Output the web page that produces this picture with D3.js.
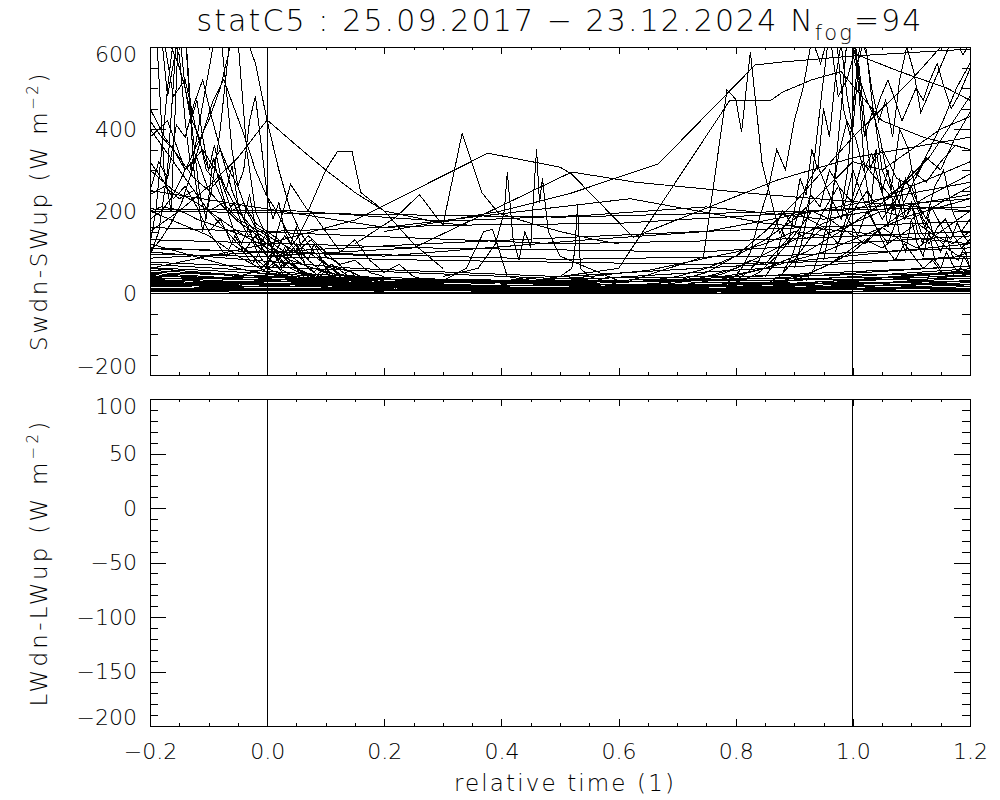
<!DOCTYPE html>
<html><head><meta charset="utf-8">
<script src="https://cdn.jsdelivr.net/npm/d3@7"></script>
<style>
body{margin:0;background:#fff}
svg{display:block}
text{font-family:"DejaVu Sans",sans-serif;font-weight:200;fill:#000}
</style>
</head><body><svg id="c" width="1000" height="800"></svg>
<script>
// ---------------- data ----------------
const titleMain = "statC5 : 25.09.2017 \u2212 23.12.2024 N";
const titleSub = "fog";
const titleEnd = "=94";
const xLabel = "relative time (1)";
const swLabel = ["Swdn-SWup (W m", "\u22122", ")"];
const lwLabel = ["LWdn-LWup (W m", "\u22122", ")"];

const xDomain = [-0.2, 1.2];
const xTicks = [-0.2, 0.0, 0.2, 0.4, 0.6, 0.8, 1.0, 1.2];
const swDomain = [-200, 600];
const swTicks = [-200, 0, 200, 400, 600];
const lwDomain = [-200, 100];
const lwTicks = [-200, -150, -100, -50, 0, 50, 100];
const markerTimes = [0.0, 1.0];

// regular series: [start time, step, values]  (Swdn-SWup, W m-2)
const nightSeries = [
  [-0.2, 0.35, [12, 10, 8, 9, 11]],
  [-0.2, 0.28, [25, 22, 18, 20, 24, 28]],
  [-0.2, 0.7, [35, 30, 40]],
  [-0.2, 0.2, [45, 30, 18, 12, 10, 16, 32, 55]],
  [-0.2, 0.47, [55, 20, 15, 60]],
  [-0.2, 0.35, [18, 14, 5, 3, 6]],
  [-0.2, 0.14, [60, 45, 32, 20, 14, 10, 9, 12, 20, 38, 52]],
  [-0.2, 0.7, [8, 4, 15]],
  [-0.2, 0.23, [30, 28, 20, 12, 10, 14, 22]],
  [-0.2, 0.35, [70, 40, 25, 35, 66]],
  [-0.2, 1.4, [40, 20]],
  [-0.2, 0.28, [22, 30, 28, 18, 12, 9]],
  [-0.2, 0.175, [15, 20, 12, 6, 2, 3, 5, 12, 20]],
  [-0.2, 0.47, [95, 80, 70, 85]],
  [-0.2, 0.35, [108, 95, 82, 90, 110]],
  [-0.2, 0.7, [50, 20, 65]],
  [-0.2, 0.2, [28, 24, 16, 8, 4, 6, 14, 30]],
  [-0.2, 0.35, [5, 6, 4, 2, 3]],
  [-0.2, 0.28, [42, 26, 14, 12, 25, 50]],
  [-0.2, 0.47, [20, 26, 30, 35]],
  [-0.2, 0.7, [75, 35, 48]],
  [-0.2, 0.35, [33, 15, 10, 12, 25]],
  [-0.2, 0.1, [48, 40, 30, 22, 18, 10, 6, 4, 3, 5, 8, 12, 20, 30, 45]],
  [-0.2, 0.23, [3, 2, 1, 1, 2, 4, 7]],
  [-0.2, 0.47, [130, 110, 100, 140]],
  [-0.2, 0.7, [200, 185, 210]],
  [-0.2, 0.35, [160, 140, 120, 130, 150]],
  [-0.2, 0.47, [85, 120, 150, 175]],
  [-0.2, 0.7, [10, 30, 90]],
  [-0.2, 0.35, [100, 60, 40, 70, 120]],
  [-0.2, 0.28, [10, 8, 6, 5, 7, 12]],
  [-0.2, 0.2, [38, 24, 14, 9, 8, 12, 22, 36]],
  [-0.2, 0.35, [25, 18, 12, 16, 45]],
  [-0.2, 0.47, [62, 28, 18, 30]]
];

const morningSeries = [
  [-0.2, 0.02, [610, 650, 480, 520, 390, 300, 350, 250, 180, 120, 90, 60, 45, 30, 22, 15, 10, 8, 6, 5, 4]],
  [-0.2, 0.015, [250, 320, 280, 410, 380, 460, 520, 430, 350, 300, 260, 200, 160, 150, 110, 80, 60, 50, 40, 30, 28, 22, 18, 15, 12, 10, 8]],
  [-0.2, 0.02, [180, 200, 240, 300, 360, 420, 500, 620, 640, 560, 420, 300, 200, 140, 100, 70, 50, 35, 25, 20, 15, 12]],
  [-0.2, 0.012, [640, 610, 300, 200, 620, 650, 400, 250, 180, 330, 260, 200, 150, 120, 160, 110, 80, 60, 70, 45, 30, 40, 25, 20, 18, 15]],
  [-0.2, 0.025, [450, 380, 330, 280, 250, 210, 175, 150, 120, 90, 60, 45, 35, 28, 20]],
  [-0.2, 0.05, [150, 200, 260, 330, 422, 360, 300, 245, 200, 185, 170, 165]],
  [-0.2, 0.02, [420, 380, 350, 300, 330, 250, 280, 200, 220, 170, 150, 130, 100, 110, 90, 70, 60, 55, 40, 30, 25, 20]],
  [-0.2, 0.015, [90, 150, 300, 620, 640, 300, 150, 250, 400, 600, 620, 350, 200, 150, 100, 60, 80, 50, 30, 20, 15, 25, 20, 10]],
  [-0.2, 0.02, [200, 210, 205, 195, 180, 170, 160, 150, 140, 135, 120, 100, 90, 70, 60, 50, 45, 40, 38, 35, 30]],
  [-0.2, 0.02, [320, 280, 230, 260, 210, 150, 180, 120, 100, 140, 90, 60, 80, 50, 40, 60, 35, 30, 25]],
  [-0.2, 0.01, [600, 650, 620, 480, 560, 640, 500, 420, 470, 380, 300, 360, 290, 250, 310, 220, 180, 240, 160, 120, 150, 100, 80, 110, 70, 60, 50, 40, 35, 30]],
  [-0.2, 0.03, [380, 420, 300, 350, 280, 200, 150, 120, 90, 140, 100, 60, 40, 30]],
  [-0.2, 0.01, [120, 200, 350, 500, 620, 580, 420, 300, 380, 460, 540, 620, 640, 500, 350, 260, 300, 420, 480, 360, 240, 180, 220, 150, 120, 160, 100, 80, 120, 90, 60, 70, 45, 35, 25]],
  [-0.2, 0.025, [240, 260, 230, 250, 200, 220, 180, 160, 140, 120, 100, 130, 90, 70, 80, 50, 40]],
  [-0.2, 0.018, [100, 130, 170, 220, 300, 390, 470, 520, 450, 380, 300, 240, 200, 150, 110, 80, 60, 45, 30, 20]],
  [-0.2, 0.04, [300, 250, 220, 180, 140, 110, 80, 60, 45, 40, 35]],
  [-0.2, 0.012, [620, 640, 610, 600, 560, 500, 420, 380, 300, 280, 240, 200, 220, 170, 140, 160, 120, 100, 90, 70, 80, 60, 50, 40, 30]],
  [-0.1, 0.015, [150, 120, 90, 140, 100, 70, 110, 80, 60, 90, 120, 70, 50, 80, 60, 40, 55, 35, 30, 25, 20, 15]],
  [-0.05, 0.02, [120, 100, 60, 90, 140, 100, 60, 40, 70, 50, 30, 40, 25, 20, 15, 10]],
  [0.0, 0.025, [60, 90, 130, 200, 150, 100, 130, 80, 50, 70, 40, 30, 20]]
];

const eveningSeries = [
  [0.78, 0.015, [20, 35, 60, 100, 180, 250, 350, 300, 420, 500, 620, 560, 640, 480, 520, 600, 380, 450, 300, 250, 400, 350, 220, 180, 260, 300, 200, 150, 180]],
  [0.8, 0.02, [30, 50, 80, 140, 200, 160, 260, 310, 240, 180, 300, 220, 160, 120, 200, 260, 180, 140, 110, 90, 100]],
  [0.85, 0.01, [40, 60, 90, 150, 120, 200, 280, 240, 350, 300, 450, 380, 520, 610, 480, 400, 560, 420, 300, 350, 250, 300, 200, 280, 180, 220, 150, 120, 180, 130, 100, 140, 90, 80, 110, 60]],
  [0.9, 0.012, [60, 120, 200, 350, 500, 640, 620, 450, 380, 560, 620, 500, 420, 470, 380, 520, 600, 540, 440, 480, 520, 560, 600, 620, 580, 610]],
  [0.7, 0.025, [25, 30, 40, 45, 60, 80, 70, 110, 150, 130, 200, 260, 220, 300, 350, 280, 260, 330, 300, 380, 440]],
  [0.75, 0.03, [15, 20, 30, 50, 90, 140, 200, 180, 150, 120, 160, 130, 110, 140, 170, 200]],
  [0.95, 0.01, [80, 150, 300, 450, 620, 650, 500, 300, 200, 350, 250, 160, 220, 140, 100, 180, 120, 90, 150, 80, 60, 100, 70, 50, 90, 60]],
  [0.85, 0.025, [20, 40, 80, 130, 160, 120, 200, 250, 180, 230, 300, 270, 320, 360, 350]],
  [0.6, 0.05, [10, 15, 25, 40, 60, 95, 130, 170, 200, 230, 260, 290, 320]],
  [0.5, 0.07, [5, 8, 12, 20, 35, 60, 100, 160, 230, 330, 480]],
  [0.88, 0.016, [50, 90, 160, 240, 210, 300, 260, 180, 140, 200, 160, 110, 80, 120, 90, 60, 80, 50, 40, 60, 45]],
  [0.92, 0.014, [30, 60, 120, 210, 340, 420, 380, 300, 340, 260, 200, 240, 180, 210, 150, 120, 160, 180, 140, 110, 130]],
  [0.97, 0.023, [100, 200, 320, 280, 240, 260, 290, 350, 420, 500, 560]],
  [0.8, 0.04, [10, 18, 30, 45, 70, 100, 150, 190, 230, 260, 290]],
  [0.9, 0.03, [30, 50, 70, 100, 130, 110, 140, 170, 140, 120, 150]],
  [0.98, 0.011, [200, 300, 480, 620, 580, 440, 380, 300, 260, 220, 280, 240, 200, 160, 210, 180, 150, 130, 170, 140, 120]],
  [1.0, 0.012, [580, 520, 470, 430, 480, 520, 470, 420, 460, 500, 470, 520, 560, 500, 450, 480, 520, 560]]
];

const fullSeries = [
  [-0.2, 0.05, [400, 300, 200, 120, 60, 30, 15, 10, 8, 6, 5, 5, 6, 8, 10, 12, 15, 20, 30, 50, 90, 150, 220, 300, 380, 450, 520, 600, 620]],
  [-0.2, 0.05, [120, 100, 80, 60, 45, 40, 30, 25, 20, 18, 15, 14, 12, 12, 14, 16, 18, 22, 28, 35, 45, 60, 80, 100, 130, 160, 190, 210, 230]],
  [-0.2, 0.05, [60, 55, 48, 40, 35, 30, 28, 25, 22, 20, 20, 22, 25, 30, 35, 40, 48, 55, 70, 85, 100, 120, 150, 140, 170, 200, 180, 220, 260]],
  [-0.2, 0.05, [200, 170, 140, 90, 50, 35, 30, 40, 35, 30, 28, 25, 30, 35, 30, 28, 25, 30, 40, 60, 90, 130, 180, 250, 320, 300, 350, 400, 430]]
];

// irregular series: [times, values]
const daySeries = [
  [[0.15, 0.22, 0.26, 0.30, 0.333, 0.367, 0.395, 0.45, 0.5, 0.56, 0.6], [120, 185, 240, 165, 390, 244, 195, 170, 150, 130, 120]],
  [[0.3, 0.36, 0.39, 0.405, 0.41, 0.42, 0.43, 0.44, 0.45, 0.455, 0.46, 0.465, 0.47, 0.48, 0.5, 0.55, 0.6], [40, 60, 120, 200, 295, 130, 80, 150, 110, 240, 350, 220, 280, 150, 90, 60, 30]],
  [[-0.05, 0.0, 0.04, 0.07, 0.1, 0.12, 0.145, 0.16, 0.2, 0.25, 0.3], [40, 60, 265, 200, 300, 345, 345, 245, 200, 120, 60]],
  [[-0.2, 0.0, 0.15, 0.377, 0.5, 0.52, 0.625, 0.87, 1.0, 1.2], [60, 120, 178, 341, 307, 290, 136, 275, 330, 380]],
  [[0.2, 0.4, 0.52, 0.668, 0.833, 0.876, 1.0, 1.2], [150, 200, 244, 315, 556, 563, 578, 595]],
  [[0.62, 0.745, 0.785, 0.80, 0.81, 0.825, 0.845, 0.875, 0.9, 0.95], [30, 88, 495, 473, 393, 588, 317, 146, 200, 160]],
  [[0.4, 0.6, 0.79, 0.86, 0.88, 0.93, 0.98, 1.05, 1.12, 1.2], [20, 60, 470, 470, 490, 520, 540, 420, 380, 350]],
  [[-0.2, 0.05, 0.3, 0.55, 0.75, 0.95, 1.2], [205, 200, 175, 190, 210, 180, 240]],
  [[-0.2, 0.2, 0.62, 0.85, 1.2], [250, 160, 230, 170, 120]],
  [[0.0, 0.3, 0.6, 0.9, 1.2], [150, 165, 170, 195, 230]],
  [[-0.2, 0.2, 0.55, 0.75, 1.2], [110, 90, 130, 150, 270]],
  [[0.0, 0.25, 0.52, 0.63, 0.85, 1.2], [90, 110, 295, 270, 240, 200]],
  [[0.2, 0.3, 0.34, 0.37, 0.385, 0.41, 0.5, 0.6], [20, 30, 60, 150, 155, 40, 20, 10]],
  [[0.45, 0.5, 0.52, 0.525, 0.53, 0.535, 0.55, 0.6, 0.65], [30, 40, 60, 100, 214, 60, 40, 20, 15]],
  [[1.0, 1.08, 1.16, 1.2], [585, 540, 500, 470]]
];

// ---------------- drawing ----------------
const svg = d3.select('#c');
const L = 150, R = 970;
const P1 = {top: 47, bottom: 375}, P2 = {top: 399, bottom: 726};
const x = d3.scaleLinear().domain(xDomain).range([L, R]);
const y1 = d3.scaleLinear().domain(swDomain).range([P1.bottom, P1.top]);
const y2 = d3.scaleLinear().domain(lwDomain).range([P2.bottom, P2.top]);

svg.append('rect').attr('width', 1000).attr('height', 800).attr('fill', '#fff');
svg.append('clipPath').attr('id', 'clip1').append('rect')
  .attr('x', L).attr('y', P1.top).attr('width', R - L).attr('height', P1.bottom - P1.top);

const regular = s => s[2].map((v, i) => [s[0] + i * s[1], v]);
const irregular = s => s[0].map((t, i) => [t, s[1][i]]);
const allLines = [
  ...nightSeries.map(regular),
  ...fullSeries.map(regular),
  ...daySeries.map(irregular),
  ...morningSeries.map(regular),
  ...eveningSeries.map(regular)
];
const line1 = d3.line().x(d => x(d[0])).y(d => y1(d[1]));
svg.append('g').attr('clip-path', 'url(#clip1)')
  .selectAll('path').data(allLines).join('path')
  .attr('d', line1).attr('fill', 'none').attr('stroke', '#000')
  .attr('stroke-width', 1).attr('shape-rendering', 'crispEdges');

// reference lines
const g1 = svg.append('g').attr('shape-rendering', 'crispEdges');
g1.append('line').attr('x1', L).attr('x2', R).attr('y1', y1(0)).attr('y2', y1(0)).attr('stroke', '#000');
[[y1, P1], [y2, P2]].forEach(([ys, P]) => {
  markerTimes.forEach(t => {
    g1.append('line').attr('x1', x(t)).attr('x2', x(t)).attr('y1', P.top).attr('y2', P.bottom).attr('stroke', '#000');
  });
});

function minorTicks(major, n) {
  const out = [];
  for (let i = 0; i < major.length - 1; i++) {
    const a = major[i], b = major[i + 1];
    for (let k = 1; k < n; k++) out.push(a + (b - a) * k / n);
  }
  return out;
}
const xMinor = minorTicks(xTicks, 4);

function panel(ys, P, yMajor, yMinorN, showX) {
  const h = P.bottom - P.top, w = R - L;
  const xt = 0.02 * h, yt = 0.02 * w;
  const yMinor = minorTicks(yMajor, yMinorN);
  const g = svg.append('g').attr('shape-rendering', 'crispEdges');
  g.append('rect').attr('x', L).attr('y', P.top).attr('width', w).attr('height', h)
    .attr('fill', 'none').attr('stroke', '#000');
  g.append('g').attr('transform', `translate(0,${P.bottom})`)
    .call(d3.axisBottom(x).tickValues(xTicks).tickSize(-xt).tickSizeOuter(0).tickPadding(17)
      .tickFormat(showX ? d3.format('.1f') : ''));
  g.append('g').attr('transform', `translate(0,${P.bottom})`)
    .call(d3.axisBottom(x).tickValues(xMinor).tickSize(-xt / 2).tickSizeOuter(0).tickFormat(''));
  g.append('g').attr('transform', `translate(0,${P.top})`)
    .call(d3.axisTop(x).tickValues(xTicks).tickSize(-xt).tickSizeOuter(0).tickFormat(''));
  g.append('g').attr('transform', `translate(0,${P.top})`)
    .call(d3.axisTop(x).tickValues(xMinor).tickSize(-xt / 2).tickSizeOuter(0).tickFormat(''));
  const gl = g.append('g').attr('transform', `translate(${L},0)`)
    .call(d3.axisLeft(ys).tickValues(yMajor).tickSize(-yt).tickSizeOuter(0).tickPadding(13).tickFormat(d3.format('d')));
  g.append('g').attr('transform', `translate(${L},0)`)
    .call(d3.axisLeft(ys).tickValues(yMinor).tickSize(-yt / 2).tickSizeOuter(0).tickFormat(''));
  g.append('g').attr('transform', `translate(${R},0)`)
    .call(d3.axisRight(ys).tickValues(yMajor).tickSize(-yt).tickSizeOuter(0).tickFormat(''));
  g.append('g').attr('transform', `translate(${R},0)`)
    .call(d3.axisRight(ys).tickValues(yMinor).tickSize(-yt / 2).tickSizeOuter(0).tickFormat(''));
  g.selectAll('.domain').remove();
  g.selectAll('.tick line').attr('stroke', '#000');
  g.selectAll('text').attr('font-family', '"DejaVu Sans",sans-serif').attr('font-size', 22).attr('fill', '#000').attr('font-weight', 200);
  // end labels pulled inside the panel
  gl.selectAll('.tick text').attr('dy', d => d === yMajor[yMajor.length - 1] ? '0.68em' : (d === yMajor[0] ? '-0.05em' : '0.32em'));
  return g;
}
panel(y1, P1, swTicks, 4, false);
panel(y2, P2, lwTicks, 5, true);

// titles
function fitText(sel, target) {
  const n = sel.text().length;
  const len = sel.node().getComputedTextLength();
  sel.attr('letter-spacing', ((target - len) / n).toFixed(2));
}
const t = svg.append('text').attr('x', 560).attr('y', 31).attr('text-anchor', 'middle').attr('font-size', 30);
t.append('tspan').text(titleMain);
t.append('tspan').attr('font-size', 21).attr('dy', 9).text(titleSub);
t.append('tspan').attr('dy', -9).text(titleEnd);
fitText(t, 727);

const xl = svg.append('text').attr('x', 565).attr('y', 791).attr('text-anchor', 'middle').attr('font-size', 23).text(xLabel);
fitText(xl, 222);

function yTitle(parts, cy, target) {
  const tt = svg.append('text').attr('transform', `translate(47,${cy}) rotate(-90)`)
    .attr('text-anchor', 'middle').attr('font-size', 23);
  tt.append('tspan').text(parts[0]);
  tt.append('tspan').attr('font-size', 15).attr('dy', -9).text(parts[1]);
  tt.append('tspan').attr('dy', 9).text(parts[2]);
  fitText(tt, target);
}
yTitle(swLabel, (P1.top + P1.bottom) / 2, 280);
yTitle(lwLabel, (P2.top + P2.bottom) / 2, 288);
</script>
</body></html>
